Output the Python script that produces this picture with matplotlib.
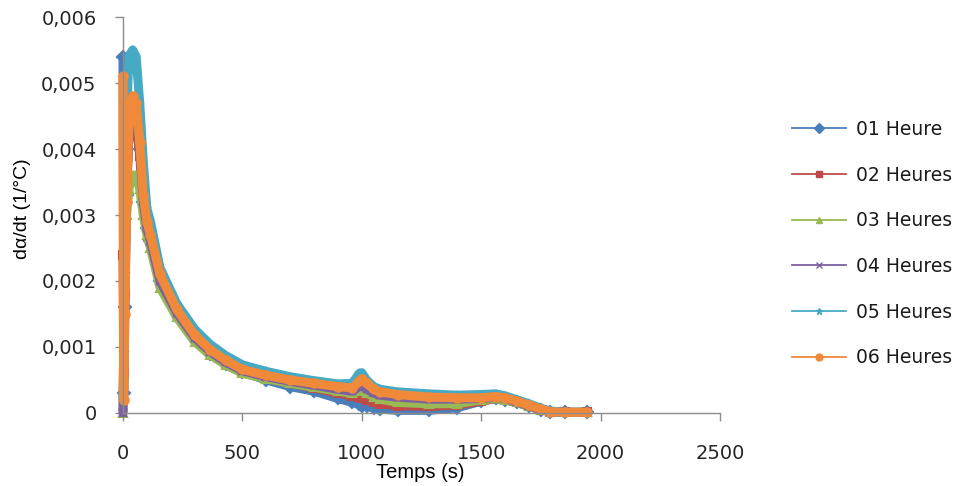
import matplotlib
matplotlib.use("Agg")
import matplotlib.pyplot as plt
from matplotlib.lines import Line2D
from matplotlib.ticker import FuncFormatter

# ---- data ----
temps = [0, 3, 8, 15, 25, 40, 55, 70, 85, 100, 115, 155, 225, 300, 365, 430, 500,
         600, 700, 800, 900, 960, 990, 1000, 1020, 1050, 1075, 1150, 1280, 1400,
         1500, 1560, 1600, 1650, 1700, 1750, 1790, 1850, 1945]

h01 = [0.0054, 0.0003, 0.0016, 0.0033, 0.0043, 0.0046, 0.0045, 0.0040, 0.0032, 0.0028,
       0.0026, 0.0020, 0.0015, 0.00112, 0.0009, 0.00075, 0.00062, 0.0005, 0.0004, 0.00033,
       0.00022, 0.00016, 0.00013, 0.00011, 0.0001, 0.00008, 0.00006, 0.00004, 0.00004, 0.00008,
       0.00018, 0.00022, 0.0002, 0.00016, 0.0001, 0.00005, 0.00002, 0.00001, 0.00001]
h02 = [0.0024, 0.0006, 0.0018, 0.0034, 0.0042, 0.0045, 0.0044, 0.0039, 0.0032, 0.0028,
       0.0026, 0.0020, 0.0015, 0.00113, 0.00092, 0.00076, 0.00063, 0.00053, 0.00045, 0.00038,
       0.0003, 0.00026, 0.00024, 0.00022, 0.0002, 0.00016, 0.00014, 0.00011, 0.0001, 0.00012,
       0.00018, 0.00022, 0.0002, 0.00016, 0.0001, 0.00005, 0.00002, 0.00001, 0.00001]
h03 = [0.0, 0.0010, 0.0022, 0.0030, 0.0034, 0.0036, 0.0036, 0.0034, 0.0030, 0.0027,
       0.0025, 0.0019, 0.00145, 0.00108, 0.00088, 0.00073, 0.0006, 0.00052, 0.00045, 0.00039,
       0.00033, 0.0003, 0.00033, 0.00034, 0.0003, 0.00025, 0.00021, 0.00016, 0.00014, 0.00014,
       0.0002, 0.00022, 0.0002, 0.00016, 0.0001, 0.00005, 0.00002, 0.00001, 0.00001]
h04 = [0.0, 0.0010, 0.0020, 0.0035, 0.0043, 0.0046, 0.0045, 0.0040, 0.0032, 0.0028,
       0.0026, 0.0020, 0.00152, 0.00114, 0.00093, 0.00077, 0.00064, 0.00055, 0.00048, 0.00042,
       0.00036, 0.00033, 0.0004, 0.00042, 0.00036, 0.0003, 0.00027, 0.00024, 0.00021, 0.00021,
       0.00022, 0.00024, 0.00022, 0.00017, 0.00011, 0.00005, 0.00002, 0.00001, 0.00001]
h05 = [0.0002, 0.0008, 0.0025, 0.0045, 0.0054, 0.0055, 0.0054, 0.0047, 0.0038, 0.0031,
       0.0029, 0.0022, 0.00166, 0.00127, 0.00104, 0.00087, 0.00073, 0.00063, 0.00055, 0.00049,
       0.00044, 0.00045, 0.0006, 0.00061, 0.0005, 0.0004, 0.00036, 0.00032, 0.00029, 0.00027,
       0.00028, 0.00029, 0.00026, 0.0002, 0.00014, 0.00007, 0.00003, 0.00001, 0.00001]
h06 = [0.0051, 0.0002, 0.0015, 0.0032, 0.0044, 0.0048, 0.0047, 0.0041, 0.0033, 0.0029,
       0.0027, 0.0021, 0.00157, 0.00118, 0.00096, 0.0008, 0.00066, 0.00057, 0.0005, 0.00045,
       0.0004, 0.00038, 0.00048, 0.00052, 0.00045, 0.00036, 0.00032, 0.00028, 0.00024, 0.00023,
       0.00023, 0.00025, 0.00023, 0.00018, 0.00012, 0.00006, 0.00002, 0.00001, 0.00001]

labels = ["01 Heure", "02 Heures", "03 Heures", "04 Heures", "05 Heures", "06 Heures"]
series = [h01, h02, h03, h04, h05, h06]
colors = ["#4A7EBB", "#BE4B48", "#98B954", "#7D60A0", "#46AAC5", "#F0893A"]
markers = ["D", "s", "^", "x", "*", "o"]

x_ticks = [0, 500, 1000, 1500, 2000, 2500]
y_ticks = [0, 0.001, 0.002, 0.003, 0.004, 0.005, 0.006]

# ---- figure ----
fig = plt.figure(figsize=(9.68, 4.86), dpi=100)
ax = fig.add_axes([123 / 968, 1 - 413 / 486, 597 / 968, 396 / 486])

for vals, c, m in zip(series, colors, markers):
    ax.plot(temps, vals, color=c, lw=6.5, marker=m, ms=6, mec=c, mfc=c, mew=1.5,
            solid_capstyle="round", solid_joinstyle="round", clip_on=False)

ax.set_xlim(0, 2500)
ax.set_ylim(0, 0.006)
ax.set_xticks(x_ticks)
ax.set_yticks(y_ticks)
ax.yaxis.set_major_formatter(FuncFormatter(lambda v, p: "0" if v == 0 else f"{v:.3f}".replace(".", ",")))

for s in ["top", "right"]:
    ax.spines[s].set_visible(False)
for s in ["left", "bottom"]:
    ax.spines[s].set_color("#8c8c8c")
    ax.spines[s].set_linewidth(1.0)

ax.tick_params(axis="both", colors="#8c8c8c", labelcolor="#262626", labelsize=14,
               direction="out", length=6, width=1)
ax.tick_params(axis="y", pad=13)
ax.tick_params(axis="x", pad=16)

ax.set_xlabel("Temps (s)", fontsize=14.5, family="Liberation Sans", color="black")
ax.xaxis.set_label_coords((420 - 123) / 597, (413 - 473) / 396)
ax.xaxis.label.set_va("center")
ax.set_ylabel("dα/dt (1/°C)", fontsize=14, family="Liberation Sans", color="black")
ax.yaxis.set_label_coords((23 - 123) / 597, (413 - 209) / 396)
ax.yaxis.label.set_va("center")

handles = [Line2D([], [], color=c, lw=1.3, marker=m, ms=5, mec=c, mfc=c)
           for c, m in zip(colors, markers)]
fig.legend(handles, labels, loc="upper left", bbox_to_anchor=(792 / 968, 1 - 120 / 486),
           frameon=False, fontsize=13.5, handlelength=2.9, handletextpad=0.5,
           labelspacing=1.42, borderpad=0, borderaxespad=0, labelcolor="#1a1a1a")

fig.savefig("out.png", dpi=100)
